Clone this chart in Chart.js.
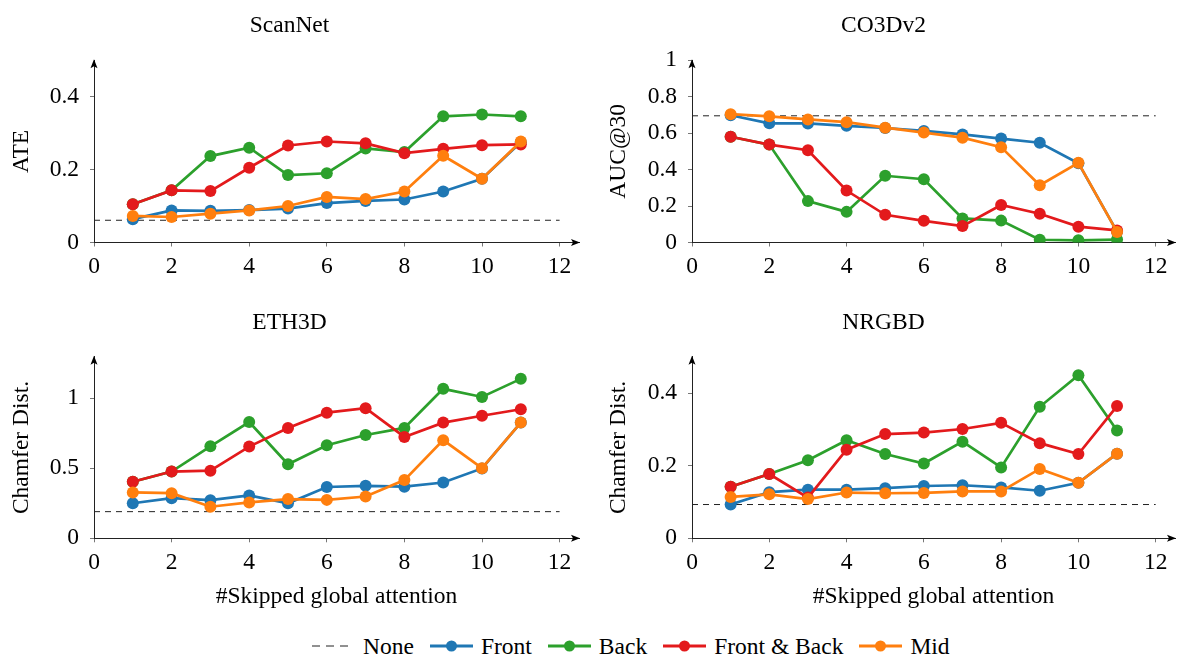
<!DOCTYPE html>
<html>
<head>
<meta charset="utf-8">
<script src="https://cdn.jsdelivr.net/npm/chart.js@4/dist/chart.umd.min.js"></script>
<style>
  body { margin: 0; background: #fff; width: 1181px; height: 658px; position: relative; overflow: hidden; }
  canvas { position: absolute; }
  #legend { position: absolute; left: 312px; top: 631px; height: 30px; display: flex; align-items: center;
            font-family: 'Liberation Serif', serif; font-size: 23.5px; color: #000; }
  #legend .item { display: flex; align-items: center; margin-right: 16px; }
  #legend svg { margin-right: 8px; }
</style>
</head>
<body>
<canvas id="c1" width="590" height="290" style="left:0;top:0"></canvas>
<canvas id="c2" width="591" height="290" style="left:590px;top:0"></canvas>
<canvas id="c3" width="590" height="320" style="left:0;top:300px"></canvas>
<canvas id="c4" width="591" height="320" style="left:590px;top:300px"></canvas>
<div id="legend"></div>
<script>
// x values: number of skipped global attention layers
var skipped = [1, 2, 3, 4, 5, 6, 7, 8, 9, 10, 11];
var seriesNames = ['Front', 'Back', 'Front & Back', 'Mid'];
var seriesColors = ['#1f77b4', '#2ca02c', '#e31a1c', '#ff7f0e'];

// ScanNet (ATE)
var scannetNone = 0.061;
var scannetFront = [0.064, 0.088, 0.087, 0.089, 0.093, 0.108, 0.114, 0.118, 0.14, 0.175, 0.275];
var scannetBack = [0.105, 0.143, 0.237, 0.26, 0.185, 0.19, 0.258, 0.248, 0.346, 0.351, 0.346];
var scannetFrontBack = [0.105, 0.143, 0.141, 0.205, 0.266, 0.277, 0.272, 0.245, 0.257, 0.267, 0.269];
var scannetMid = [0.073, 0.07, 0.079, 0.088, 0.1, 0.125, 0.119, 0.14, 0.238, 0.175, 0.277];

// CO3Dv2 (AUC@30)
var co3dNone = 0.695;
var co3dFront = [0.698, 0.654, 0.653, 0.64, 0.628, 0.612, 0.593, 0.57, 0.547, 0.435, 0.06];
var co3dBack = [0.58, 0.537, 0.227, 0.168, 0.366, 0.347, 0.132, 0.12, 0.015, 0.012, 0.016];
var co3dFrontBack = [0.58, 0.537, 0.506, 0.285, 0.152, 0.119, 0.09, 0.206, 0.158, 0.087, 0.066];
var co3dMid = [0.704, 0.692, 0.675, 0.66, 0.63, 0.603, 0.575, 0.523, 0.314, 0.437, 0.058];

// ETH3D (Chamfer Dist.)
var ethNone = 0.19;
var ethFront = [0.25, 0.286, 0.272, 0.306, 0.25, 0.366, 0.374, 0.368, 0.398, 0.498, 0.825];
var ethBack = [0.403, 0.476, 0.656, 0.829, 0.528, 0.664, 0.737, 0.787, 1.066, 1.008, 1.137];
var ethFrontBack = [0.403, 0.476, 0.482, 0.654, 0.787, 0.896, 0.928, 0.723, 0.825, 0.874, 0.92];
var ethMid = [0.327, 0.322, 0.225, 0.256, 0.28, 0.274, 0.298, 0.415, 0.7, 0.5, 0.825];

// NRGBD (Chamfer Dist.)
var nrgbdNone = 0.093;
var nrgbdFront = [0.093, 0.127, 0.134, 0.134, 0.138, 0.144, 0.146, 0.14, 0.131, 0.153, 0.233];
var nrgbdBack = [0.142, 0.177, 0.215, 0.27, 0.232, 0.206, 0.266, 0.195, 0.362, 0.449, 0.297];
var nrgbdFrontBack = [0.142, 0.177, 0.112, 0.244, 0.287, 0.291, 0.301, 0.318, 0.262, 0.232, 0.364];
var nrgbdMid = [0.114, 0.121, 0.108, 0.126, 0.124, 0.125, 0.129, 0.129, 0.191, 0.153, 0.233];

var xTicksMax = 12;
var fontFamily = "'Liberation Serif', 'Times New Roman', serif";

Chart.defaults.color = '#000';
Chart.defaults.font.family = fontFamily;

// draws the little arrow heads at the ends of both axes
var axisArrows = {
  id: 'axisArrows',
  afterDraw: function(chart) {
    var a = chart.chartArea, ctx = chart.ctx;
    ctx.save();
    ctx.fillStyle = '#000';
    ctx.beginPath();
    ctx.moveTo(a.right + 1, a.bottom);
    ctx.lineTo(a.right - 8, a.bottom - 3.5);
    ctx.lineTo(a.right - 6, a.bottom);
    ctx.lineTo(a.right - 8, a.bottom + 3.5);
    ctx.closePath();
    ctx.fill();
    ctx.beginPath();
    ctx.moveTo(a.left, a.top - 1);
    ctx.lineTo(a.left - 3.5, a.top + 8);
    ctx.lineTo(a.left, a.top + 6);
    ctx.lineTo(a.left + 3.5, a.top + 8);
    ctx.closePath();
    ctx.fill();
    ctx.restore();
  }
};

// "1" instead of "1.0", "0" instead of "0.0"
function plainTick(value) {
  return String(Number(value.toFixed(3)));
}

function toPoints(ys) {
  return ys.map(function(y, i) { return {x: skipped[i], y: y}; });
}

function makeChart(id, cfg) {
  var lists = [cfg.front, cfg.back, cfg.frontBack, cfg.mid];
  var datasets = [{
    label: 'None',
    data: [{x: 0, y: cfg.none}, {x: xTicksMax, y: cfg.none}],
    borderColor: '#222',
    borderWidth: 1,
    borderDash: [6, 5],
    pointRadius: 0,
    order: 10
  }];
  lists.forEach(function(ys, k) {
    datasets.push({
      label: seriesNames[k],
      data: toPoints(ys),
      borderColor: seriesColors[k],
      backgroundColor: seriesColors[k],
      borderWidth: 2.7,
      pointRadius: 6,
      pointBorderWidth: 0,
      pointBackgroundColor: seriesColors[k],
      order: 4 - k
    });
  });

  return new Chart(document.getElementById(id), {
    type: 'line',
    data: {datasets: datasets},
    plugins: [axisArrows],
    options: {
      responsive: false,
      animation: false,
      layout: {padding: {left: 0, right: cfg.padRight, top: 0, bottom: 0}},
      plugins: {
        legend: {display: false},
        tooltip: {enabled: false},
        title: {
          display: true,
          text: cfg.title,
          font: {size: 23.5, weight: 'normal', family: fontFamily},
          padding: {top: cfg.titleTop, bottom: cfg.titleBottom}
        }
      },
      scales: {
        x: {
          type: 'linear',
          min: 0,
          max: 12.5,
          afterFit: function(s) { s.height = cfg.xHeight; },
          ticks: {stepSize: 2, includeBounds: false, padding: 6, font: {size: 23.5}, callback: plainTick},
          grid: {drawOnChartArea: false, tickLength: 4, color: '#777'},
          border: {color: '#222', width: 1},
          title: {
            display: !!cfg.xTitle,
            text: cfg.xTitle || '',
            font: {size: 23.5},
            padding: {top: 4, bottom: 9}
          }
        },
        y: {
          min: 0,
          max: cfg.yMax,
          afterFit: function(s) { s.width = cfg.yWidth; },
          ticks: {stepSize: cfg.yStep, includeBounds: false, padding: 11, font: {size: 23.5}, callback: plainTick},
          grid: {drawOnChartArea: false, tickLength: 4, color: '#777'},
          border: {color: '#222', width: 1},
          title: {
            display: true,
            text: cfg.yTitle,
            font: {size: 23.5},
            padding: {top: cfg.yTitlePad, bottom: 0}
          }
        }
      }
    }
  });
}

makeChart('c1', {
  title: 'ScanNet', yTitle: 'ATE', none: scannetNone,
  front: scannetFront, back: scannetBack, frontBack: scannetFrontBack, mid: scannetMid,
  yMax: 0.5, yStep: 0.2, yWidth: 94, yTitlePad: 8, padRight: 11,
  titleTop: 12, titleBottom: 20, xHeight: 47.5
});
makeChart('c2', {
  title: 'CO3Dv2', yTitle: 'AUC@30', none: co3dNone,
  front: co3dFront, back: co3dBack, frontBack: co3dFrontBack, mid: co3dMid,
  yMax: 1, yStep: 0.2, yWidth: 102, yTitlePad: 15, padRight: 4,
  titleTop: 12, titleBottom: 20, xHeight: 47.5
});
makeChart('c3', {
  title: 'ETH3D', yTitle: 'Chamfer Dist.', none: ethNone,
  front: ethFront, back: ethBack, frontBack: ethFrontBack, mid: ethMid,
  yMax: 1.295, yStep: 0.5, yWidth: 94, yTitlePad: 8, padRight: 11,
  titleTop: 9, titleBottom: 19.5, xHeight: 81.7, xTitle: '#Skipped global attention'
});
makeChart('c4', {
  title: 'NRGBD', yTitle: 'Chamfer Dist.', none: nrgbdNone,
  front: nrgbdFront, back: nrgbdBack, frontBack: nrgbdFrontBack, mid: nrgbdMid,
  yMax: 0.5, yStep: 0.2, yWidth: 102, yTitlePad: 15, padRight: 4,
  titleTop: 9, titleBottom: 19.5, xHeight: 81.7, xTitle: '#Skipped global attention'
});

// legend below the four panels
var legend = document.getElementById('legend');
var legendHtml = '<div class="item"><svg width="40" height="12" style="margin-right:11px">' +
  '<line x1="0" y1="6" x2="40" y2="6" stroke="#222" stroke-width="1" stroke-dasharray="8,6"/></svg>None</div>';
seriesNames.forEach(function(name, k) {
  legendHtml += '<div class="item"><svg width="43" height="14">' +
    '<line x1="0" y1="7" x2="43" y2="7" stroke="' + seriesColors[k] + '" stroke-width="3"/>' +
    '<circle cx="21.5" cy="7" r="5.5" fill="' + seriesColors[k] + '"/></svg>' + name.replace('&', '&amp;') + '</div>';
});
legend.innerHTML = legendHtml;
</script>
</body>
</html>
